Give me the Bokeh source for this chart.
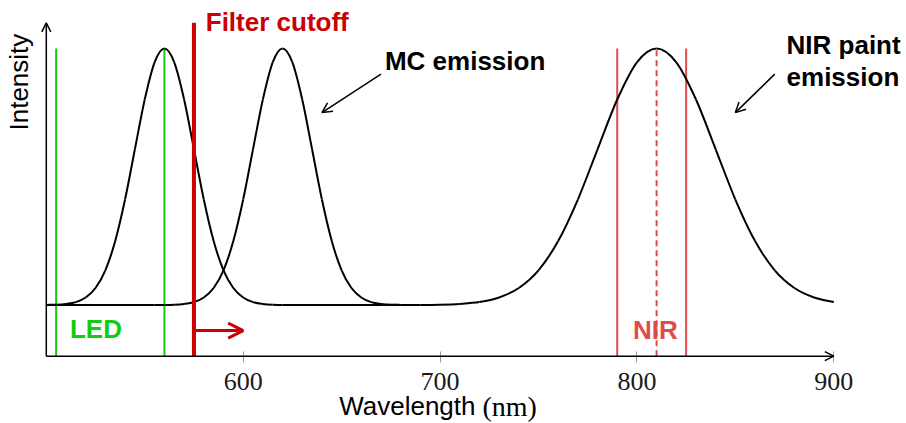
import math
from bokeh.plotting import figure
from bokeh.models import Range1d, FixedTicker, Arrow, OpenHead, Label, LinearAxis
from bokeh.embed import file_html
from bokeh.resources import INLINE

# ---------------- data ----------------
x_axis_range = [500, 900]
y_axis_range = [0, 1.3]
tick_values = [600, 700, 800, 900]

# excitation curve (peak ~560 nm)
exc_x = [500, 505, 510, 515, 520, 525, 530, 535, 540, 545, 550, 555, 560,
         565, 570, 575, 580, 585, 590, 595, 600, 605, 610, 615, 620, 670]
exc_y = [0.200, 0.201, 0.204, 0.211, 0.229, 0.266, 0.335, 0.449, 0.611, 0.807,
         1.001, 1.146, 1.200, 1.146, 1.001, 0.807, 0.611, 0.449, 0.335, 0.266,
         0.229, 0.211, 0.204, 0.201, 0.200, 0.200]

# MC emission curve (peak ~620 nm)
mc_x = [500, 555, 560, 565, 570, 575, 580, 585, 590, 595, 600, 605, 610, 615, 620,
        625, 630, 635, 640, 645, 650, 655, 660, 665, 670, 675, 680]
mc_y = [0.200, 0.200, 0.200, 0.201, 0.204, 0.211, 0.229, 0.266, 0.335, 0.449, 0.611, 0.807,
        1.001, 1.146, 1.200, 1.146, 1.001, 0.807, 0.611, 0.449, 0.335, 0.266,
        0.229, 0.211, 0.204, 0.201, 0.200]

# NIR paint emission curve (peak ~810 nm)
nir_x = [670, 680, 690, 700, 710, 720, 730, 740, 750, 760, 770, 780, 790,
         800, 810, 820, 830, 840, 850, 860, 870, 880, 890, 900]
nir_y = [0.200, 0.200, 0.200, 0.201, 0.204, 0.211, 0.229, 0.266, 0.335, 0.449,
         0.611, 0.807, 1.001, 1.146, 1.200, 1.146, 1.001, 0.807, 0.611, 0.449,
         0.335, 0.266, 0.229, 0.211]

led_lines = [505, 560]
led_top = 1.2
cutoff_nm = 575
cutoff_top = 1.3
cutoff_arrow = [575, 600]
cutoff_arrow_y = 0.1
nir_band = [790, 825]
nir_center = [810]
nir_top = 1.2

mc_arrow = [670, 1.1, 640, 0.95]
nir_arrow = [870, 1.1, 850, 0.95]

RED = "#cc0000"
GREEN = "#11cc11"
NIRRED = "#de4b4b"
SANS = "Liberation Sans"
SERIF = "Liberation Serif"


def bezier_parts(xs, ys):
    n = len(xs)
    m = []
    for i in range(n):
        if i == 0:
            m.append((ys[1] - ys[0]) / (xs[1] - xs[0]))
        elif i == n - 1:
            m.append((ys[-1] - ys[-2]) / (xs[-1] - xs[-2]))
        else:
            m.append((ys[i + 1] - ys[i - 1]) / (xs[i + 1] - xs[i - 1]))
    d = dict(x0=[], y0=[], x1=[], y1=[], cx0=[], cy0=[], cx1=[], cy1=[])
    for i in range(n - 1):
        h = xs[i + 1] - xs[i]
        d["x0"].append(xs[i]); d["y0"].append(ys[i])
        d["x1"].append(xs[i + 1]); d["y1"].append(ys[i + 1])
        d["cx0"].append(xs[i] + h / 3); d["cy0"].append(ys[i] + m[i] * h / 3)
        d["cx1"].append(xs[i + 1] - h / 3); d["cy1"].append(ys[i + 1] - m[i + 1] * h / 3)
    return d


# layout: the frame fills the canvas; 500..900 nm -> 45.8..833.3 px
W, H = 906, 423
PX_NM = 787.5 / 400.0
PX_Y = 307.7 / 1.2
x0_nm = 500 - 45.8 / PX_NM
y0_val = -(H - 355.7) / PX_Y

p = figure(width=W, height=H,
           x_range=Range1d(x0_nm, x0_nm + W / PX_NM),
           y_range=Range1d(y0_val, y0_val + H / PX_Y),
           x_axis_location=None, y_axis_location=None,
           toolbar_location=None, output_backend="svg",
           min_border=0, min_border_left=0, min_border_right=0,
           min_border_top=0, min_border_bottom=0)
p.outline_line_color = None
p.grid.visible = False
p.background_fill_color = "white"

ax = LinearAxis(fixed_location=0)
ax.ticker = FixedTicker(ticks=tick_values)
ax.axis_line_color = None
ax.major_tick_in = 5
ax.major_tick_out = 6
ax.major_tick_line_color = "#999999"
ax.major_tick_line_width = 1
ax.minor_tick_line_color = None
ax.major_label_text_font = SERIF
ax.major_label_text_font_size = "26px"
ax.major_label_text_color = "#1a1a1a"
ax.major_label_standoff = 11
p.add_layout(ax, "below")

# vertical marker lines
p.segment(x0=led_lines, y0=[0] * len(led_lines), x1=led_lines, y1=[led_top] * len(led_lines),
          line_color=GREEN, line_width=2)
p.segment(x0=nir_band, y0=[0] * len(nir_band), x1=nir_band, y1=[nir_top] * len(nir_band),
          line_color=NIRRED, line_width=2)
p.segment(x0=nir_center, y0=[0], x1=nir_center, y1=[nir_top],
          line_color=NIRRED, line_width=2, line_dash="6 4")

# curves
for xs, ys in [(exc_x, exc_y), (mc_x, mc_y), (nir_x, nir_y)]:
    b = bezier_parts(xs, ys)
    p.bezier(line_color="black", line_width=2, **b)

# cutoff line
p.segment(x0=[cutoff_nm], y0=[0], x1=[cutoff_nm], y1=[cutoff_top],
          line_color=RED, line_width=4)

# axes arrows
p.add_layout(Arrow(end=OpenHead(size=9, line_width=1.5, line_color="black"),
                   x_start=x_axis_range[0], y_start=0, x_end=x_axis_range[1], y_end=0,
                   line_width=1.5, line_color="black"))
p.add_layout(Arrow(end=OpenHead(size=9, line_width=1.5, line_color="black"),
                   x_start=x_axis_range[0], y_start=0, x_end=x_axis_range[0], y_end=y_axis_range[1],
                   line_width=1.5, line_color="black"))

# cutoff arrow
p.add_layout(Arrow(end=OpenHead(size=15, line_width=3, line_color=RED),
                   x_start=cutoff_arrow[0], y_start=cutoff_arrow_y,
                   x_end=cutoff_arrow[1], y_end=cutoff_arrow_y,
                   line_width=3, line_color=RED))

# annotation arrows
for a in (mc_arrow, nir_arrow):
    p.add_layout(Arrow(end=OpenHead(size=10, line_width=1.5, line_color="black"),
                       x_start=a[0], y_start=a[1], x_end=a[2], y_end=a[3],
                       line_width=1.5, line_color="black"))


def lab(x, y, text, color="black", size="26px", font=SANS, style="bold",
        align="left", baseline="alphabetic", angle=0):
    p.add_layout(Label(x=x, y=y, text=text, text_color=color, text_font_size=size,
                       text_font=font, text_font_style=style, text_align=align,
                       text_baseline=baseline, angle=angle))


lab(581, 1.302, "Filter cutoff", color=RED)
lab(672, 1.151, "MC emission")
lab(876, 1.214, "NIR paint")
lab(876, 1.090, "emission")
lab(512, 0.105, "LED", color=GREEN)
lab(798, 0.102, "NIR", color=NIRRED)
lab(486.2, 1.069, "Intensity", style="normal", align="center", angle=math.pi / 2)
lab(718, -0.195, "Wavelength", style="normal", align="right")
lab(721.5, -0.195, "(nm)", font=SERIF, style="normal", size="28px")

open("out.html", "w").write(file_html(p, INLINE))
